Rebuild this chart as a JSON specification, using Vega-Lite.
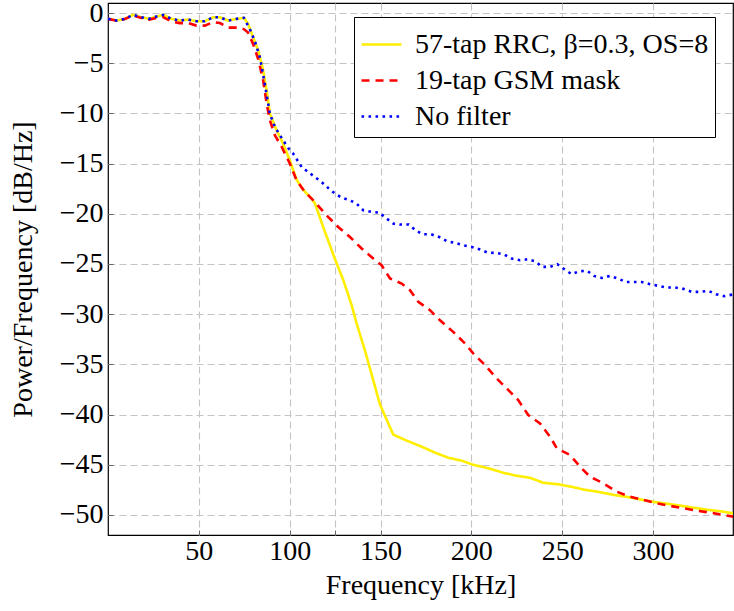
{
  "$schema": "https://vega.github.io/schema/vega-lite/v6.json",
  "width": 625,
  "height": 532,
  "autosize": "none",
  "padding": {"left": 108, "top": 3, "right": 1, "bottom": 76},
  "background": "white",
  "config": {
    "view": {"stroke": "black", "strokeWidth": 1.2},
    "font": "Liberation Serif",
    "axis": {
      "labelFont": "Liberation Serif",
      "titleFont": "Liberation Serif",
      "labelFontSize": 28,
      "titleFontSize": 28,
      "labelColor": "black",
      "titleColor": "black",
      "titleFontWeight": "normal",
      "domain": false,
      "gridColor": "#c4c4c4",
      "gridDash": [7, 4],
      "gridWidth": 1.1,
      "tickColor": "#666666",
      "tickSize": -5
    },
    "legend": {
      "labelFont": "Liberation Serif",
      "labelFontSize": 28,
      "labelColor": "black"
    }
  },
  "data": {
    "values": [
      {"f": 0, "db": -0.58, "s": "57-tap RRC, β=0.3, OS=8"},
      {"f": 4.7, "db": -0.75, "s": "57-tap RRC, β=0.3, OS=8"},
      {"f": 9.3, "db": -0.58, "s": "57-tap RRC, β=0.3, OS=8"},
      {"f": 13.8, "db": -0.18, "s": "57-tap RRC, β=0.3, OS=8"},
      {"f": 18.4, "db": -0.42, "s": "57-tap RRC, β=0.3, OS=8"},
      {"f": 22.6, "db": -0.58, "s": "57-tap RRC, β=0.3, OS=8"},
      {"f": 26.7, "db": -0.35, "s": "57-tap RRC, β=0.3, OS=8"},
      {"f": 30.3, "db": -0.18, "s": "57-tap RRC, β=0.3, OS=8"},
      {"f": 35.0, "db": -0.58, "s": "57-tap RRC, β=0.3, OS=8"},
      {"f": 39.5, "db": -0.75, "s": "57-tap RRC, β=0.3, OS=8"},
      {"f": 44.1, "db": -0.65, "s": "57-tap RRC, β=0.3, OS=8"},
      {"f": 48.7, "db": -0.82, "s": "57-tap RRC, β=0.3, OS=8"},
      {"f": 53.3, "db": -0.82, "s": "57-tap RRC, β=0.3, OS=8"},
      {"f": 57.9, "db": -0.42, "s": "57-tap RRC, β=0.3, OS=8"},
      {"f": 61.6, "db": -0.42, "s": "57-tap RRC, β=0.3, OS=8"},
      {"f": 66.1, "db": -0.75, "s": "57-tap RRC, β=0.3, OS=8"},
      {"f": 70.8, "db": -0.58, "s": "57-tap RRC, β=0.3, OS=8"},
      {"f": 74.8, "db": -0.48, "s": "57-tap RRC, β=0.3, OS=8"},
      {"f": 77.1, "db": -1.07, "s": "57-tap RRC, β=0.3, OS=8"},
      {"f": 79.9, "db": -2.41, "s": "57-tap RRC, β=0.3, OS=8"},
      {"f": 82.7, "db": -3.73, "s": "57-tap RRC, β=0.3, OS=8"},
      {"f": 85.4, "db": -5.72, "s": "57-tap RRC, β=0.3, OS=8"},
      {"f": 87.3, "db": -7.71, "s": "57-tap RRC, β=0.3, OS=8"},
      {"f": 89.1, "db": -10.0, "s": "57-tap RRC, β=0.3, OS=8"},
      {"f": 92.8, "db": -11.7, "s": "57-tap RRC, β=0.3, OS=8"},
      {"f": 96.4, "db": -13.0, "s": "57-tap RRC, β=0.3, OS=8"},
      {"f": 100.1, "db": -14.7, "s": "57-tap RRC, β=0.3, OS=8"},
      {"f": 103.8, "db": -16.6, "s": "57-tap RRC, β=0.3, OS=8"},
      {"f": 107.4, "db": -17.6, "s": "57-tap RRC, β=0.3, OS=8"},
      {"f": 112.1, "db": -18.5, "s": "57-tap RRC, β=0.3, OS=8"},
      {"f": 114.0, "db": -19.0, "s": "57-tap RRC, β=0.3, OS=8"},
      {"f": 118.4, "db": -21.3, "s": "57-tap RRC, β=0.3, OS=8"},
      {"f": 124.9, "db": -24.5, "s": "57-tap RRC, β=0.3, OS=8"},
      {"f": 129.5, "db": -26.6, "s": "57-tap RRC, β=0.3, OS=8"},
      {"f": 134.1, "db": -29.1, "s": "57-tap RRC, β=0.3, OS=8"},
      {"f": 136.8, "db": -30.9, "s": "57-tap RRC, β=0.3, OS=8"},
      {"f": 141.4, "db": -33.6, "s": "57-tap RRC, β=0.3, OS=8"},
      {"f": 149.7, "db": -39.0, "s": "57-tap RRC, β=0.3, OS=8"},
      {"f": 157.0, "db": -42.0, "s": "57-tap RRC, β=0.3, OS=8"},
      {"f": 164.4, "db": -42.6, "s": "57-tap RRC, β=0.3, OS=8"},
      {"f": 172.6, "db": -43.2, "s": "57-tap RRC, β=0.3, OS=8"},
      {"f": 180.0, "db": -43.8, "s": "57-tap RRC, β=0.3, OS=8"},
      {"f": 187.3, "db": -44.3, "s": "57-tap RRC, β=0.3, OS=8"},
      {"f": 194.7, "db": -44.6, "s": "57-tap RRC, β=0.3, OS=8"},
      {"f": 201.0, "db": -45.0, "s": "57-tap RRC, β=0.3, OS=8"},
      {"f": 209.3, "db": -45.35, "s": "57-tap RRC, β=0.3, OS=8"},
      {"f": 217.6, "db": -45.8, "s": "57-tap RRC, β=0.3, OS=8"},
      {"f": 224.9, "db": -46.1, "s": "57-tap RRC, β=0.3, OS=8"},
      {"f": 232.3, "db": -46.3, "s": "57-tap RRC, β=0.3, OS=8"},
      {"f": 239.6, "db": -46.8, "s": "57-tap RRC, β=0.3, OS=8"},
      {"f": 247.9, "db": -46.95, "s": "57-tap RRC, β=0.3, OS=8"},
      {"f": 255.2, "db": -47.2, "s": "57-tap RRC, β=0.3, OS=8"},
      {"f": 262.6, "db": -47.5, "s": "57-tap RRC, β=0.3, OS=8"},
      {"f": 269.9, "db": -47.7, "s": "57-tap RRC, β=0.3, OS=8"},
      {"f": 278.1, "db": -48.0, "s": "57-tap RRC, β=0.3, OS=8"},
      {"f": 285.5, "db": -48.2, "s": "57-tap RRC, β=0.3, OS=8"},
      {"f": 292.8, "db": -48.45, "s": "57-tap RRC, β=0.3, OS=8"},
      {"f": 300.2, "db": -48.7, "s": "57-tap RRC, β=0.3, OS=8"},
      {"f": 308.4, "db": -48.9, "s": "57-tap RRC, β=0.3, OS=8"},
      {"f": 315.8, "db": -49.1, "s": "57-tap RRC, β=0.3, OS=8"},
      {"f": 323.1, "db": -49.3, "s": "57-tap RRC, β=0.3, OS=8"},
      {"f": 330.4, "db": -49.5, "s": "57-tap RRC, β=0.3, OS=8"},
      {"f": 337.8, "db": -49.65, "s": "57-tap RRC, β=0.3, OS=8"},
      {"f": 344.2, "db": -49.85, "s": "57-tap RRC, β=0.3, OS=8"},

      {"f": 0, "db": -0.58, "s": "19-tap GSM mask"},
      {"f": 4.7, "db": -0.75, "s": "19-tap GSM mask"},
      {"f": 9.3, "db": -0.6, "s": "19-tap GSM mask"},
      {"f": 13.8, "db": -0.25, "s": "19-tap GSM mask"},
      {"f": 18.4, "db": -0.5, "s": "19-tap GSM mask"},
      {"f": 22.6, "db": -0.65, "s": "19-tap GSM mask"},
      {"f": 26.7, "db": -0.5, "s": "19-tap GSM mask"},
      {"f": 30.3, "db": -0.4, "s": "19-tap GSM mask"},
      {"f": 35.0, "db": -0.85, "s": "19-tap GSM mask"},
      {"f": 39.5, "db": -1.0, "s": "19-tap GSM mask"},
      {"f": 44.1, "db": -1.0, "s": "19-tap GSM mask"},
      {"f": 48.7, "db": -1.25, "s": "19-tap GSM mask"},
      {"f": 53.3, "db": -1.25, "s": "19-tap GSM mask"},
      {"f": 57.9, "db": -0.9, "s": "19-tap GSM mask"},
      {"f": 61.6, "db": -1.0, "s": "19-tap GSM mask"},
      {"f": 66.1, "db": -1.45, "s": "19-tap GSM mask"},
      {"f": 70.8, "db": -1.45, "s": "19-tap GSM mask"},
      {"f": 74.8, "db": -1.6, "s": "19-tap GSM mask"},
      {"f": 77.1, "db": -1.95, "s": "19-tap GSM mask"},
      {"f": 79.9, "db": -3.1, "s": "19-tap GSM mask"},
      {"f": 82.7, "db": -4.6, "s": "19-tap GSM mask"},
      {"f": 85.4, "db": -6.7, "s": "19-tap GSM mask"},
      {"f": 87.3, "db": -9.0, "s": "19-tap GSM mask"},
      {"f": 89.1, "db": -10.7, "s": "19-tap GSM mask"},
      {"f": 91.9, "db": -12.2, "s": "19-tap GSM mask"},
      {"f": 95.5, "db": -13.3, "s": "19-tap GSM mask"},
      {"f": 100.1, "db": -15.0, "s": "19-tap GSM mask"},
      {"f": 103.8, "db": -16.67, "s": "19-tap GSM mask"},
      {"f": 108.4, "db": -17.83, "s": "19-tap GSM mask"},
      {"f": 113.9, "db": -18.83, "s": "19-tap GSM mask"},
      {"f": 120.3, "db": -20.15, "s": "19-tap GSM mask"},
      {"f": 126.7, "db": -21.31, "s": "19-tap GSM mask"},
      {"f": 133.2, "db": -22.31, "s": "19-tap GSM mask"},
      {"f": 139.6, "db": -23.46, "s": "19-tap GSM mask"},
      {"f": 146.0, "db": -24.46, "s": "19-tap GSM mask"},
      {"f": 150.6, "db": -25.12, "s": "19-tap GSM mask"},
      {"f": 155.2, "db": -26.45, "s": "19-tap GSM mask"},
      {"f": 161.6, "db": -26.95, "s": "19-tap GSM mask"},
      {"f": 166.2, "db": -27.61, "s": "19-tap GSM mask"},
      {"f": 170.8, "db": -28.78, "s": "19-tap GSM mask"},
      {"f": 177.2, "db": -29.6, "s": "19-tap GSM mask"},
      {"f": 182.7, "db": -30.6, "s": "19-tap GSM mask"},
      {"f": 190.0, "db": -31.76, "s": "19-tap GSM mask"},
      {"f": 196.5, "db": -32.92, "s": "19-tap GSM mask"},
      {"f": 201.0, "db": -33.9, "s": "19-tap GSM mask"},
      {"f": 207.5, "db": -35.07, "s": "19-tap GSM mask"},
      {"f": 213.9, "db": -36.4, "s": "19-tap GSM mask"},
      {"f": 219.4, "db": -37.39, "s": "19-tap GSM mask"},
      {"f": 225.8, "db": -38.56, "s": "19-tap GSM mask"},
      {"f": 231.3, "db": -40.05, "s": "19-tap GSM mask"},
      {"f": 237.8, "db": -40.88, "s": "19-tap GSM mask"},
      {"f": 243.3, "db": -42.21, "s": "19-tap GSM mask"},
      {"f": 247.0, "db": -43.36, "s": "19-tap GSM mask"},
      {"f": 254.3, "db": -44.03, "s": "19-tap GSM mask"},
      {"f": 259.8, "db": -45.19, "s": "19-tap GSM mask"},
      {"f": 265.3, "db": -46.19, "s": "19-tap GSM mask"},
      {"f": 272.6, "db": -46.85, "s": "19-tap GSM mask"},
      {"f": 280.0, "db": -47.68, "s": "19-tap GSM mask"},
      {"f": 287.3, "db": -48.18, "s": "19-tap GSM mask"},
      {"f": 294.7, "db": -48.51, "s": "19-tap GSM mask"},
      {"f": 302.0, "db": -48.84, "s": "19-tap GSM mask"},
      {"f": 309.4, "db": -49.1, "s": "19-tap GSM mask"},
      {"f": 316.7, "db": -49.33, "s": "19-tap GSM mask"},
      {"f": 324.1, "db": -49.57, "s": "19-tap GSM mask"},
      {"f": 331.4, "db": -49.77, "s": "19-tap GSM mask"},
      {"f": 338.7, "db": -50.0, "s": "19-tap GSM mask"},
      {"f": 344.2, "db": -50.17, "s": "19-tap GSM mask"},

      {"f": 0, "db": -0.58, "s": "No filter"},
      {"f": 4.7, "db": -0.75, "s": "No filter"},
      {"f": 9.3, "db": -0.58, "s": "No filter"},
      {"f": 13.8, "db": -0.18, "s": "No filter"},
      {"f": 18.4, "db": -0.42, "s": "No filter"},
      {"f": 22.6, "db": -0.58, "s": "No filter"},
      {"f": 26.7, "db": -0.35, "s": "No filter"},
      {"f": 30.3, "db": -0.18, "s": "No filter"},
      {"f": 35.0, "db": -0.58, "s": "No filter"},
      {"f": 39.5, "db": -0.75, "s": "No filter"},
      {"f": 44.1, "db": -0.65, "s": "No filter"},
      {"f": 48.7, "db": -0.82, "s": "No filter"},
      {"f": 53.3, "db": -0.82, "s": "No filter"},
      {"f": 57.9, "db": -0.42, "s": "No filter"},
      {"f": 61.6, "db": -0.42, "s": "No filter"},
      {"f": 66.1, "db": -0.75, "s": "No filter"},
      {"f": 70.8, "db": -0.58, "s": "No filter"},
      {"f": 74.8, "db": -0.48, "s": "No filter"},
      {"f": 78.0, "db": -1.57, "s": "No filter"},
      {"f": 80.8, "db": -2.8, "s": "No filter"},
      {"f": 83.6, "db": -4.4, "s": "No filter"},
      {"f": 86.3, "db": -7.05, "s": "No filter"},
      {"f": 89.1, "db": -10.03, "s": "No filter"},
      {"f": 91.9, "db": -11.36, "s": "No filter"},
      {"f": 96.4, "db": -12.69, "s": "No filter"},
      {"f": 100.1, "db": -13.68, "s": "No filter"},
      {"f": 101.9, "db": -14.0, "s": "No filter"},
      {"f": 106.6, "db": -15.34, "s": "No filter"},
      {"f": 110.2, "db": -15.84, "s": "No filter"},
      {"f": 117.6, "db": -16.84, "s": "No filter"},
      {"f": 121.2, "db": -17.43, "s": "No filter"},
      {"f": 124.9, "db": -17.99, "s": "No filter"},
      {"f": 128.6, "db": -18.39, "s": "No filter"},
      {"f": 133.2, "db": -18.66, "s": "No filter"},
      {"f": 136.8, "db": -18.99, "s": "No filter"},
      {"f": 140.5, "db": -19.65, "s": "No filter"},
      {"f": 145.1, "db": -19.82, "s": "No filter"},
      {"f": 149.3, "db": -19.88, "s": "No filter"},
      {"f": 153.4, "db": -20.48, "s": "No filter"},
      {"f": 157.0, "db": -20.98, "s": "No filter"},
      {"f": 160.7, "db": -21.07, "s": "No filter"},
      {"f": 165.6, "db": -21.07, "s": "No filter"},
      {"f": 169.3, "db": -21.64, "s": "No filter"},
      {"f": 173.2, "db": -22.04, "s": "No filter"},
      {"f": 177.8, "db": -22.04, "s": "No filter"},
      {"f": 182.3, "db": -22.31, "s": "No filter"},
      {"f": 186.4, "db": -22.71, "s": "No filter"},
      {"f": 191.0, "db": -22.9, "s": "No filter"},
      {"f": 195.5, "db": -23.13, "s": "No filter"},
      {"f": 200.2, "db": -23.3, "s": "No filter"},
      {"f": 204.7, "db": -23.56, "s": "No filter"},
      {"f": 208.8, "db": -23.86, "s": "No filter"},
      {"f": 213.4, "db": -23.9, "s": "No filter"},
      {"f": 217.9, "db": -24.03, "s": "No filter"},
      {"f": 222.2, "db": -24.46, "s": "No filter"},
      {"f": 226.8, "db": -24.63, "s": "No filter"},
      {"f": 231.0, "db": -24.53, "s": "No filter"},
      {"f": 235.0, "db": -24.73, "s": "No filter"},
      {"f": 239.0, "db": -25.29, "s": "No filter"},
      {"f": 243.3, "db": -25.29, "s": "No filter"},
      {"f": 247.3, "db": -25.02, "s": "No filter"},
      {"f": 251.2, "db": -25.52, "s": "No filter"},
      {"f": 255.2, "db": -26.02, "s": "No filter"},
      {"f": 259.4, "db": -25.72, "s": "No filter"},
      {"f": 263.8, "db": -25.69, "s": "No filter"},
      {"f": 267.5, "db": -26.19, "s": "No filter"},
      {"f": 271.8, "db": -26.39, "s": "No filter"},
      {"f": 276.3, "db": -26.19, "s": "No filter"},
      {"f": 280.6, "db": -26.45, "s": "No filter"},
      {"f": 285.0, "db": -26.79, "s": "No filter"},
      {"f": 289.5, "db": -26.79, "s": "No filter"},
      {"f": 293.8, "db": -26.79, "s": "No filter"},
      {"f": 298.3, "db": -27.01, "s": "No filter"},
      {"f": 302.9, "db": -27.18, "s": "No filter"},
      {"f": 307.5, "db": -27.34, "s": "No filter"},
      {"f": 312.1, "db": -27.34, "s": "No filter"},
      {"f": 316.7, "db": -27.48, "s": "No filter"},
      {"f": 321.3, "db": -27.78, "s": "No filter"},
      {"f": 325.9, "db": -27.78, "s": "No filter"},
      {"f": 330.5, "db": -27.68, "s": "No filter"},
      {"f": 334.7, "db": -28.01, "s": "No filter"},
      {"f": 339.1, "db": -28.21, "s": "No filter"},
      {"f": 343.9, "db": -28.04, "s": "No filter"}
    ]
  },
  "mark": {"type": "line", "strokeWidth": 2.6, "strokeCap": "butt", "clip": true, "interpolate": "linear"},
  "encoding": {
    "x": {
      "field": "f",
      "type": "quantitative",
      "scale": {"domain": [0, 344], "nice": false, "zero": false},
      "axis": {
        "title": "Frequency [kHz]",
        "values": [50, 100, 125, 150, 200, 250, 300],
        "labelExpr": "datum.value == 125 ? '' : datum.label",
        "labelPadding": 7,
        "titlePadding": 6
      }
    },
    "y": {
      "field": "db",
      "type": "quantitative",
      "scale": {"domain": [-52, 1], "nice": false, "zero": false},
      "axis": {
        "title": "Power/Frequency [dB/Hz]",
        "values": [0, -5, -10, -15, -20, -25, -30, -35, -40, -45, -50],
        "labelPadding": 10,
        "titlePadding": 22
      }
    },
    "color": {
      "field": "s",
      "type": "nominal",
      "scale": {
        "domain": ["57-tap RRC, β=0.3, OS=8", "19-tap GSM mask", "No filter"],
        "range": ["#ffee00", "#ff0000", "#0000ff"]
      },
      "legend": {
        "title": null,
        "orient": "none",
        "legendX": 246,
        "legendY": 14,
        "strokeColor": "black",
        "fillColor": "white",
        "padding": 6,
        "symbolType": "stroke",
        "symbolSize": 1600,
        "symbolStrokeWidth": 2.6,
        "labelOffset": 12,
        "rowPadding": 0,
        "labelLimit": 400
      }
    },
    "strokeDash": {
      "field": "s",
      "type": "nominal",
      "scale": {
        "domain": ["57-tap RRC, β=0.3, OS=8", "19-tap GSM mask", "No filter"],
        "range": [[1, 0], [8, 6], [2.6, 4.4]]
      },
      "legend": {
        "title": null,
        "orient": "none",
        "legendX": 246,
        "legendY": 14,
        "strokeColor": "black",
        "fillColor": "white",
        "padding": 6,
        "symbolType": "stroke",
        "symbolSize": 1600,
        "symbolStrokeWidth": 2.6,
        "labelOffset": 12,
        "rowPadding": 0,
        "labelLimit": 400
      }
    }
  }
}
